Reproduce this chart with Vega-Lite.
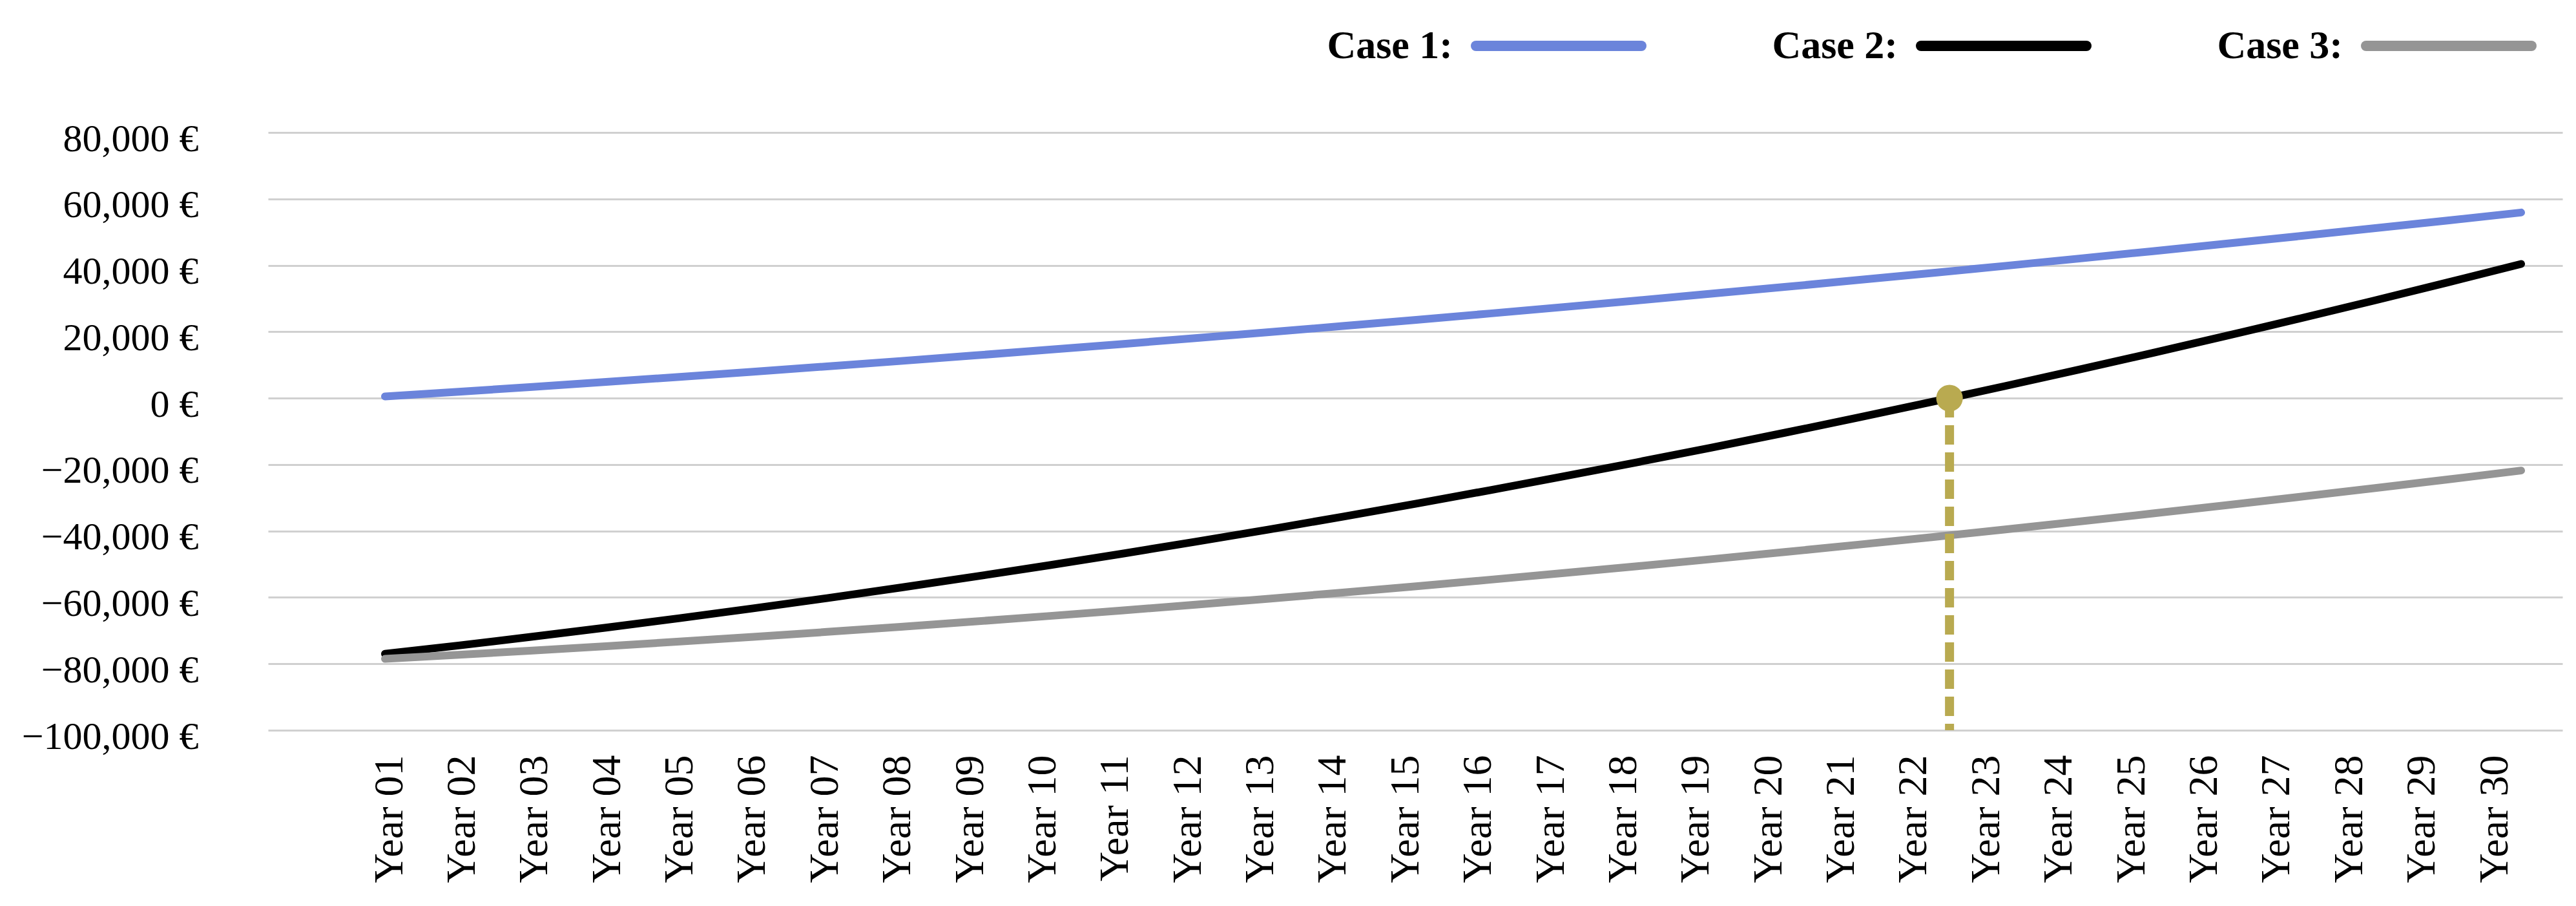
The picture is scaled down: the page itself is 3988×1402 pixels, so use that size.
{
  "$schema": "https://vega.github.io/schema/vega-lite/v6.json",
  "width": 3552,
  "height": 925,
  "autosize": {"type": "none"},
  "padding": {"left": 415, "top": 205, "right": 21, "bottom": 272},
  "background": "white",
  "config": {
    "view": {"stroke": null},
    "font": "Liberation Serif",
    "legend": {"padding": 0}
  },
  "datasets": {
    "series": [
      {"year": 1, "case": "Case 1", "value": 500},
      {"year": 2, "case": "Case 1", "value": 1922},
      {"year": 3, "case": "Case 1", "value": 3379},
      {"year": 4, "case": "Case 1", "value": 4870},
      {"year": 5, "case": "Case 1", "value": 6397},
      {"year": 6, "case": "Case 1", "value": 7958},
      {"year": 7, "case": "Case 1", "value": 9555},
      {"year": 8, "case": "Case 1", "value": 11186},
      {"year": 9, "case": "Case 1", "value": 12852},
      {"year": 10, "case": "Case 1", "value": 14553},
      {"year": 11, "case": "Case 1", "value": 16289},
      {"year": 12, "case": "Case 1", "value": 18060},
      {"year": 13, "case": "Case 1", "value": 19865},
      {"year": 14, "case": "Case 1", "value": 21706},
      {"year": 15, "case": "Case 1", "value": 23581},
      {"year": 16, "case": "Case 1", "value": 25492},
      {"year": 17, "case": "Case 1", "value": 27437},
      {"year": 18, "case": "Case 1", "value": 29417},
      {"year": 19, "case": "Case 1", "value": 31432},
      {"year": 20, "case": "Case 1", "value": 33481},
      {"year": 21, "case": "Case 1", "value": 35566},
      {"year": 22, "case": "Case 1", "value": 37686},
      {"year": 23, "case": "Case 1", "value": 39840},
      {"year": 24, "case": "Case 1", "value": 42030},
      {"year": 25, "case": "Case 1", "value": 44253},
      {"year": 26, "case": "Case 1", "value": 46513},
      {"year": 27, "case": "Case 1", "value": 48806},
      {"year": 28, "case": "Case 1", "value": 51135},
      {"year": 29, "case": "Case 1", "value": 53499},
      {"year": 30, "case": "Case 1", "value": 55898},
      {"year": 1, "case": "Case 2", "value": -77000},
      {"year": 2, "case": "Case 2", "value": -74478},
      {"year": 3, "case": "Case 2", "value": -71846},
      {"year": 4, "case": "Case 2", "value": -69106},
      {"year": 5, "case": "Case 2", "value": -66257},
      {"year": 6, "case": "Case 2", "value": -63298},
      {"year": 7, "case": "Case 2", "value": -60231},
      {"year": 8, "case": "Case 2", "value": -57055},
      {"year": 9, "case": "Case 2", "value": -53770},
      {"year": 10, "case": "Case 2", "value": -50375},
      {"year": 11, "case": "Case 2", "value": -46872},
      {"year": 12, "case": "Case 2", "value": -43260},
      {"year": 13, "case": "Case 2", "value": -39538},
      {"year": 14, "case": "Case 2", "value": -35708},
      {"year": 15, "case": "Case 2", "value": -31769},
      {"year": 16, "case": "Case 2", "value": -27720},
      {"year": 17, "case": "Case 2", "value": -23563},
      {"year": 18, "case": "Case 2", "value": -19297},
      {"year": 19, "case": "Case 2", "value": -14922},
      {"year": 20, "case": "Case 2", "value": -10437},
      {"year": 21, "case": "Case 2", "value": -5844},
      {"year": 22, "case": "Case 2", "value": -1142},
      {"year": 23, "case": "Case 2", "value": 3670},
      {"year": 24, "case": "Case 2", "value": 8590},
      {"year": 25, "case": "Case 2", "value": 13619},
      {"year": 26, "case": "Case 2", "value": 18758},
      {"year": 27, "case": "Case 2", "value": 24005},
      {"year": 28, "case": "Case 2", "value": 29361},
      {"year": 29, "case": "Case 2", "value": 34826},
      {"year": 30, "case": "Case 2", "value": 40401},
      {"year": 1, "case": "Case 3", "value": -78500},
      {"year": 2, "case": "Case 3", "value": -77280},
      {"year": 3, "case": "Case 3", "value": -76007},
      {"year": 4, "case": "Case 3", "value": -74682},
      {"year": 5, "case": "Case 3", "value": -73304},
      {"year": 6, "case": "Case 3", "value": -71874},
      {"year": 7, "case": "Case 3", "value": -70392},
      {"year": 8, "case": "Case 3", "value": -68856},
      {"year": 9, "case": "Case 3", "value": -67269},
      {"year": 10, "case": "Case 3", "value": -65629},
      {"year": 11, "case": "Case 3", "value": -63936},
      {"year": 12, "case": "Case 3", "value": -62191},
      {"year": 13, "case": "Case 3", "value": -60393},
      {"year": 14, "case": "Case 3", "value": -58543},
      {"year": 15, "case": "Case 3", "value": -56640},
      {"year": 16, "case": "Case 3", "value": -54685},
      {"year": 17, "case": "Case 3", "value": -52678},
      {"year": 18, "case": "Case 3", "value": -50617},
      {"year": 19, "case": "Case 3", "value": -48505},
      {"year": 20, "case": "Case 3", "value": -46340},
      {"year": 21, "case": "Case 3", "value": -44122},
      {"year": 22, "case": "Case 3", "value": -41852},
      {"year": 23, "case": "Case 3", "value": -39529},
      {"year": 24, "case": "Case 3", "value": -37154},
      {"year": 25, "case": "Case 3", "value": -34726},
      {"year": 26, "case": "Case 3", "value": -32246},
      {"year": 27, "case": "Case 3", "value": -29714},
      {"year": 28, "case": "Case 3", "value": -27128},
      {"year": 29, "case": "Case 3", "value": -24491},
      {"year": 30, "case": "Case 3", "value": -21801}
    ],
    "cross": [
      {"year": 22.24, "value": 0, "bottom": -100000}
    ]
  },
  "resolve": {"scale": {"x": "independent"}},
  "layer": [
    {
      "data": {"name": "series"},
      "mark": {"type": "point", "opacity": 0},
      "encoding": {
        "x": {
          "field": "year",
          "type": "quantitative",
          "scale": {"domain": [-0.673, 30.934], "nice": false, "zero": false},
          "axis": {
            "orient": "bottom",
            "title": null,
            "values": [1,2,3,4,5,6,7,8,9,10,11,12,13,14,15,16,17,18,19,20,21,22,23,24,25,26,27,28,29,30],
            "labelExpr": "'Year ' + (datum.value < 10 ? '0' : '') + datum.value",
            "labelAngle": -90,
            "labelAlign": "right",
            "labelBaseline": "middle",
            "labelFont": "Liberation Serif",
            "labelFontSize": 64,
            "labelColor": "black",
            "labelPadding": 38,
            "labelOverlap": false,
            "labelLimit": 400,
            "ticks": false,
            "tickSize": 0,
            "domain": false,
            "grid": false
          }
        }
      }
    },
    {
      "layer": [
        {
          "mark": {"type": "rule", "color": "#333333", "strokeWidth": 4},
          "encoding": {"y": {"datum": 0}}
        },
        {
          "data": {"name": "series"},
          "mark": {"type": "line", "strokeWidth": 12, "strokeCap": "round", "strokeJoin": "round"},
          "encoding": {
            "x": {
              "field": "year",
              "type": "quantitative",
              "scale": {"domain": [-0.5873, 30.561], "nice": false, "zero": false},
              "axis": null
            },
            "y": {
              "field": "value",
              "type": "quantitative",
              "scale": {"domain": [-100000, 80000], "nice": false, "zero": false},
              "axis": {
                "title": null,
                "values": [-100000, -80000, -60000, -40000, -20000, 0, 20000, 40000, 60000, 80000],
                "labelExpr": "format(datum.value, ',') + ' €'",
                "labelFont": "Liberation Serif",
                "labelFontSize": 60,
                "labelColor": "black",
                "labelPadding": 108,
                "labelOffset": 10,
                "labelBaseline": "middle",
                "labelLimit": 600,
                "ticks": false,
                "tickSize": 0,
                "domain": false,
                "grid": true,
                "gridColor": "#d0d0d0",
                "gridWidth": 3
              }
            },
            "color": {
              "field": "case",
              "type": "nominal",
              "scale": {
                "domain": ["Case 1", "Case 2", "Case 3"],
                "range": ["#6b84db", "#000000", "#959595"]
              },
              "legend": {
                "title": null,
                "orient": "none",
                "legendX": 1862,
                "legendY": -270,
                "direction": "horizontal",
                "symbolType": "stroke",
                "symbolSize": 65536,
                "symbolStrokeWidth": 16,
                "labelAlign": "right",
                "labelOffset": -300,
                "labelFont": "Liberation Serif",
                "labelFontWeight": "bold",
                "labelFontSize": 62,
                "labelColor": "black",
                "labelLimit": 400,
                "labelExpr": "datum.label + ':'",
                "columnPadding": 170,
                "encode": {"symbols": {"update": {"strokeCap": {"value": "round"}}}}
              }
            }
          }
        },
        {
          "data": {"name": "cross"},
          "mark": {"type": "rule", "color": "#b9aa50", "strokeWidth": 14, "strokeDash": [30, 12]},
          "encoding": {
            "x": {"field": "year", "type": "quantitative"},
            "y": {"field": "value", "type": "quantitative"},
            "y2": {"field": "bottom"}
          }
        },
        {
          "data": {"name": "cross"},
          "mark": {"type": "point", "shape": "circle", "filled": true, "color": "#b9aa50", "size": 1700, "opacity": 1},
          "encoding": {
            "x": {"field": "year", "type": "quantitative"},
            "y": {"field": "value", "type": "quantitative"}
          }
        }
      ]
    }
  ]
}
